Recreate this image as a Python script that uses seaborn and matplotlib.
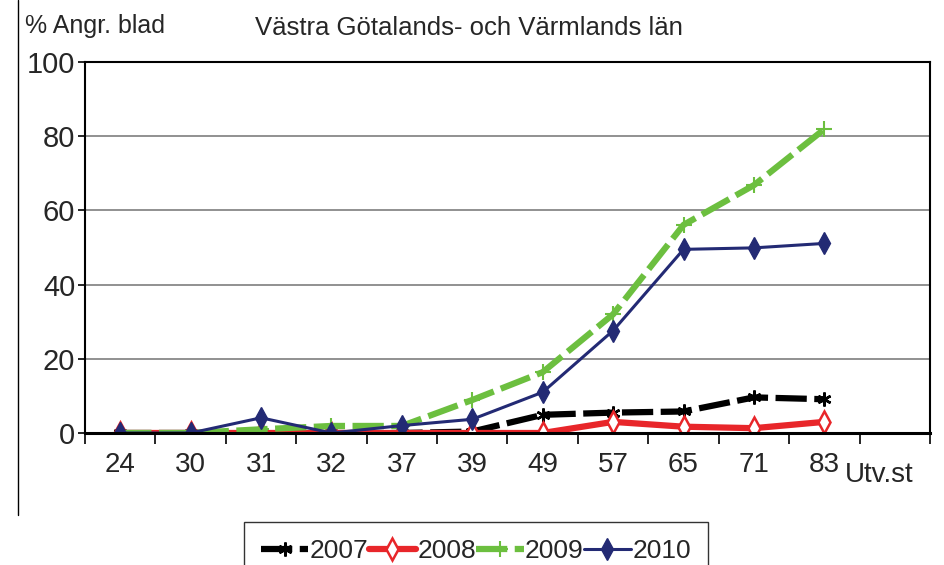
import matplotlib
matplotlib.use("Agg")
import matplotlib.pyplot as plt
import matplotlib.lines as mlines
import seaborn as sns
import pandas as pd
import numpy as np

categories = ["24", "30", "31", "32", "37", "39", "49", "57", "65", "71", "83"]
v2007 = [0, 0, 0, 0, 0, 0.4, 4.9, 5.5, 5.8, 9.6, 9.1]
v2008 = [0, 0, 0, 0, 0, 0, 0, 3.0, 1.7, 1.3, 3.0]
v2009 = [0, 0, 1.0, 1.9, 1.9, 8.9, 16.4, 32.0, 56.1, 66.8, 81.9]
v2010 = [0, 0, 4.1, 0, 2.0, 3.7, 11.0, 27.6, 49.5, 49.9, 51.1]
series_names = ["2007", "2008", "2009", "2010"]
yticks = [0, 20, 40, 60, 80, 100]

sns.set_theme(style="white")
plt.rcParams["font.family"] = ["Liberation Sans", "DejaVu Sans"]

rows = []
for name, vals in zip(series_names, [v2007, v2008, v2009, v2010]):
    for i, v in enumerate(vals):
        rows.append({"pos": i, "cat": categories[i], "value": v, "year": name})
df = pd.DataFrame(rows)

fig = plt.figure(figsize=(9.44, 5.65), dpi=100)
ax = fig.add_axes([85/944, 1-433/565, (930-85)/944, (433-62)/565])

styles = {
    "2007": dict(color="black", lw=4.5, dashes=(5, 1.2), marker=(6, 2, 0), ms=10,
                 mfc="black", mec="black", mew=1.8),
    "2008": dict(color="#e8262a", lw=4.5, dashes=None, marker="d", ms=11,
                 mfc="white", mec="#e8262a", mew=1.8),
    "2009": dict(color="#6cbf3f", lw=4.5, dashes=(5, 1.2), marker="+", ms=11,
                 mfc="#6cbf3f", mec="#6cbf3f", mew=1.5),
    "2010": dict(color="#232a74", lw=2.2, dashes=None, marker="d", ms=11,
                 mfc="#232a74", mec="#232a74", mew=1.0),
}

for name in series_names:
    st = styles[name]
    sub = df[df["year"] == name]
    kw = dict(color=st["color"], linewidth=st["lw"], marker=st["marker"],
              markersize=st["ms"], markerfacecolor=st["mfc"],
              markeredgecolor=st["mec"], markeredgewidth=st["mew"], label=name)
    sns.lineplot(data=sub, x="pos", y="value", ax=ax, **kw)
    if st["dashes"] is not None:
        ax.lines[-1].set_dashes(st["dashes"])

ax.set_xlim(-0.5, 11.5)
ax.set_ylim(0, 100)
ax.set_yticks(yticks)
ax.set_yticklabels([str(t) for t in yticks], fontsize=21)
ax.set_xticks(range(len(categories)))
ax.set_xticklabels(categories, fontsize=20)
ax.set_xticks(np.arange(-0.5, 12.0, 1.0), minor=True)
ax.tick_params(axis="x", which="major", length=0, pad=14)
ax.tick_params(axis="x", which="minor", length=8, width=1.2, color="black", direction="out", bottom=True)
ax.tick_params(axis="y", which="major", length=5, width=1.2, color="black", direction="out", left=True, pad=2)
ax.set_xlabel("")
ax.set_ylabel("")
for y in yticks[1:-1]:
    ax.axhline(y, color="#888888", lw=1.3, zorder=0)
for sp in ax.spines.values():
    sp.set_color("black")
    sp.set_linewidth(1.5)
ax.spines["bottom"].set_linewidth(2.2)
ax.set_facecolor("white")
ax.grid(False)

fig.text(845/944, 1-475/565, "Utv.st", fontsize=20, ha="left", va="center")
fig.text(25/944, 1-26/565, "% Angr. blad", fontsize=18, ha="left", va="center")
fig.text(255/944, 1-28/565, "Västra Götalands- och Värmlands län", fontsize=18.5, ha="left", va="center")

fig.add_artist(mlines.Line2D([18/944, 18/944], [1-515/565, 1.0], color="black", lw=1.0))

handles, labels = ax.get_legend_handles_labels()
leg = fig.legend(handles, labels, loc="upper center", bbox_to_anchor=(476/944, 1-522/565),
                 ncol=4, fontsize=19, frameon=True, fancybox=False, edgecolor="black",
                 handlelength=1.8, handletextpad=0.05, columnspacing=0.0,
                 borderpad=0.65, borderaxespad=0)
leg.get_frame().set_linewidth(1.0)
if ax.get_legend() is not None:
    ax.get_legend().remove()

fig.savefig("out.png", dpi=100)
